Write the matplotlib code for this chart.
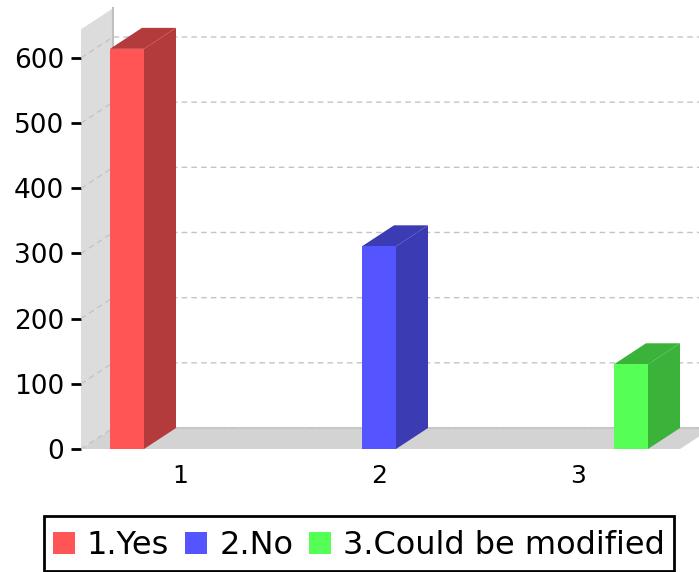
import matplotlib
matplotlib.use("Agg")
import matplotlib.pyplot as plt
from matplotlib.patches import Polygon, Patch, Rectangle
from matplotlib.colors import to_rgb

# values
categories = ["1.Yes", "2.No", "3.Could be modified"]
values = [614, 311, 130]
colors = ["#ff5555", "#5555ff", "#55ff55"]
bar_pos = [1, 2, 3]
tick_pos = [1.21, 2.0, 2.79]
tick_labels = ["1", "2", "3"]
y_ticks = [0, 100, 200, 300, 400, 500, 600]

W, H = 699, 572
X0, Y0 = 81, 449          # pixel position of the chart origin
PX_X = 252.0              # pixels per category
PX_Y = 0.6517             # pixels per value unit
DX = 32 / PX_X            # 3d depth in data units
DY = 21 / PX_Y
BAR_W = 34 / PX_X
WALL_TOP = 644
FLOOR_END = 3 + (680 - 631) / PX_X


def shade(c, f=0.7):
    return tuple(v * f for v in to_rgb(c))


fig = plt.figure(figsize=(W / 100, H / 100), dpi=100)
ax = fig.add_axes([X0 / W, (H - Y0) / H, (W - X0) / W, Y0 / H])
ax.set_xlim(1 - (127 - X0) / PX_X, 1 + (W - 127) / PX_X)
ax.set_ylim(0, Y0 / PX_Y)
for s in ax.spines.values():
    s.set_visible(False)

xl = ax.get_xlim()[0]

# back wall and floor
ax.add_patch(Polygon([(xl, 0), (xl + DX, DY), (xl + DX, WALL_TOP + DY), (xl, WALL_TOP)],
                     fc="#dcdcdc", ec="none", zorder=1))
ax.plot([xl + DX, xl + DX], [DY, WALL_TOP + DY], color="#c0c0c0", lw=1.5, zorder=1.5)
ax.add_patch(Polygon([(xl, 0), (xl + DX, DY), (FLOOR_END + DX, DY), (FLOOR_END, 0)],
                     fc="#d3d3d3", ec="none", zorder=1))
ax.plot([xl + DX, FLOOR_END + DX], [DY, DY], color="#c8c8c8", lw=1.5, zorder=1.5)

# grid runs up the wall and then along the back
for t in y_ticks:
    ax.plot([xl, xl + DX, FLOOR_END + DX], [t, t + DY, t + DY], color="#c4c4c4",
            lw=1, dashes=(4, 3), zorder=2)

# bars: front, side, top
for x, v, c in zip(bar_pos, values, colors):
    l, r = x - BAR_W / 2, x + BAR_W / 2
    dark = shade(c)
    ax.add_patch(Polygon([(r, 0), (r + DX, DY), (r + DX, v + DY), (r, v)], fc=dark, ec="none", zorder=3))
    ax.add_patch(Polygon([(l, v), (l + DX, v + DY), (r + DX, v + DY), (r, v)], fc=dark, ec="none", zorder=3))
    ax.bar(x, v, width=BAR_W, color=c, zorder=4)

ax.set_yticks(y_ticks)
ax.set_xticks(tick_pos)
ax.set_xticklabels(tick_labels)
ax.tick_params(axis="y", length=7, width=2, labelsize=19, pad=5, color="black")
ax.tick_params(axis="x", length=0, labelsize=18, pad=11)

# legend box is a bit taller than the legend's own frame would be
fig.add_artist(Rectangle((44 / W, (H - 571) / H), 630 / W, 55 / H, transform=fig.transFigure,
                         fc="white", ec="black", lw=2))
handles = [Patch(fc=c, ec="none") for c in colors]
leg = fig.legend(handles, categories, loc="center", bbox_to_anchor=(359 / W, (H - 546) / H),
                 ncol=3, fontsize=23, frameon=False,
                 handlelength=0.69, handleheight=0.69,
                 handletextpad=0.375, columnspacing=0.5, borderpad=0.28, borderaxespad=0)

fig.savefig("out.png", dpi=100)
